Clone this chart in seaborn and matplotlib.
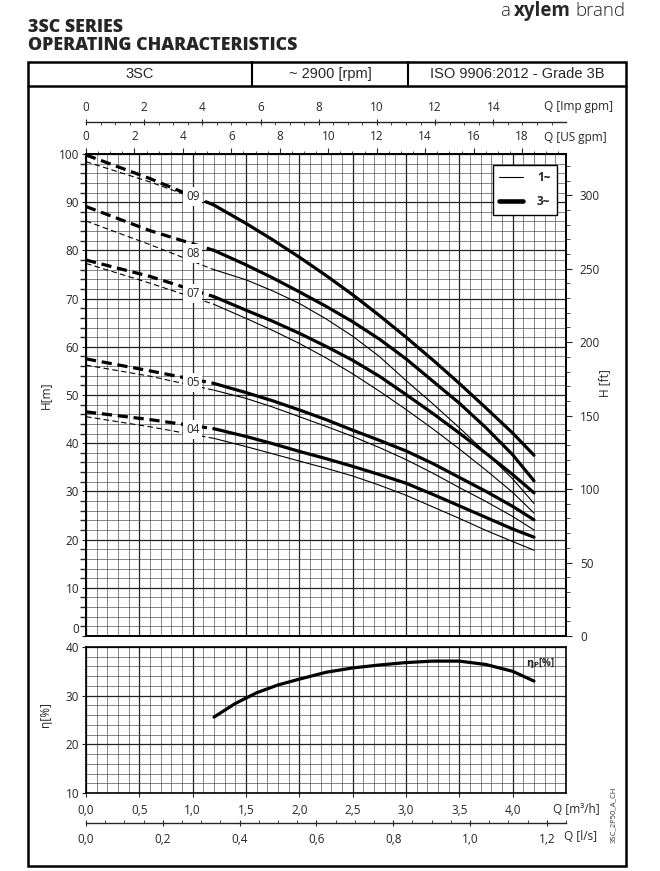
import numpy as np
import seaborn as sns
import matplotlib.pyplot as plt
from matplotlib.lines import Line2D
from matplotlib.patches import Rectangle
from matplotlib.ticker import MultipleLocator, FixedLocator, FuncFormatter

# --- data ---
Q_DASH = [0.0, 0.6, 1.2]
Q_SOLID = [1.2, 1.5, 1.75, 2.0, 2.25, 2.5, 2.75, 3.0, 3.25, 3.5, 3.75, 4.0, 4.2]

# dashed part (below the recommended range)
H09_3_DASH = [99.8, 94.9, 89.4]
H09_1_DASH = [98.4, 94.2, 89.4]
H08_3_DASH = [89.1, 84.1, 80.0]
H08_1_DASH = [86.1, 81.2, 76.0]
H07_3_DASH = [78.0, 74.6, 70.4]
H07_1_DASH = [77.3, 73.2, 68.8]
H05_3_DASH = [57.5, 55.0, 52.4]
H05_1_DASH = [56.2, 53.9, 51.0]
H04_3_DASH = [46.5, 44.9, 43.0]
H04_1_DASH = [45.5, 43.4, 41.0]

# solid part
H09_3 = [89.4, 85.6, 82.2, 78.6, 74.8, 70.8, 66.5, 62.0, 57.3, 52.4, 47.3, 42.1, 37.5]
H08_3 = [80.0, 77.0, 74.3, 71.4, 68.4, 65.2, 61.6, 57.5, 52.9, 48.3, 43.2, 37.6, 32.2]
H08_1 = [76.0, 73.9, 71.6, 69.0, 65.8, 62.2, 58.0, 53.0, 48.2, 43.2, 38.0, 32.6, 27.5]
H07_3 = [70.4, 67.6, 65.3, 62.8, 60.1, 57.2, 53.9, 50.1, 46.2, 42.1, 37.9, 33.5, 29.7]
H07_1 = [68.8, 65.9, 63.4, 60.7, 57.7, 54.4, 50.8, 47.0, 43.0, 38.8, 34.4, 29.8, 25.5]
H05_3 = [52.4, 50.5, 48.8, 46.9, 44.9, 42.7, 40.6, 38.4, 35.8, 32.9, 30.0, 26.9, 24.1]
H05_1 = [51.0, 49.3, 47.5, 45.5, 43.5, 41.4, 39.1, 36.6, 33.8, 30.8, 27.9, 24.8, 22.0]
H04_3 = [43.0, 41.4, 39.9, 38.3, 36.8, 35.2, 33.5, 31.7, 29.4, 27.0, 24.6, 22.2, 20.5]
H04_1 = [41.0, 39.3, 37.8, 36.3, 34.8, 33.2, 31.3, 29.2, 26.8, 24.4, 21.9, 19.6, 17.8]

MODELS = ['09', '08', '07', '05', '04']
LABEL_Q = 1.0
LABEL_H = [91.1, 79.3, 71.0, 52.5, 42.9]

Q_EFF = [1.2, 1.4, 1.6, 1.8, 2.0, 2.25, 2.5, 2.75, 3.0, 3.25, 3.5, 3.75, 4.0, 4.2]
ETA = [25.6, 28.4, 30.6, 32.2, 33.4, 34.8, 35.7, 36.3, 36.8, 37.1, 37.1, 36.4, 35.0, 33.0]

HEADER_CELLS = ['3SC', '~ 2900 [rpm]', 'ISO 9906:2012 - Grade 3B']

# tick values
TICKS_H = [0, 10, 20, 30, 40, 50, 60, 70, 80, 90, 100]
TICKS_IMP = [0, 2, 4, 6, 8, 10, 12, 14]
TICKS_US = [0, 2, 4, 6, 8, 10, 12, 14, 16, 18]
TICKS_M3H = [0.0, 0.5, 1.0, 1.5, 2.0, 2.5, 3.0, 3.5, 4.0]
TICKS_LS = [0.0, 0.2, 0.4, 0.6, 0.8, 1.0, 1.2]

M_TO_FT = 3.28084
M3H_TO_USGPM = 4.40287
M3H_TO_IMPGPM = 3.66615
M3H_TO_LS = 1 / 3.6

sns.set_theme(style='white')
plt.rcParams['font.family'] = ['Open Sans', 'DejaVu Sans']
plt.rcParams['mathtext.fontset'] = 'dejavusans'

W, H = 660, 871
fig = plt.figure(figsize=(6.6, 8.71), dpi=100)


def fx(px):
    return px / W


def fy(py):
    return 1 - py / H


ax = fig.add_axes([fx(86), fy(636), fx(566) - fx(86), fy(154) - fy(636)])
ax_e = fig.add_axes([fx(86), fy(793), fx(566) - fx(86), fy(647) - fy(793)])

THIN, THICK = 0.8, 2.3
comma = FuncFormatter(lambda v, p: f'{v:.1f}'.replace('.', ','))


def grid(a, ymaj, ymin):
    a.xaxis.set_major_locator(MultipleLocator(0.5))
    a.xaxis.set_minor_locator(MultipleLocator(0.1))
    a.yaxis.set_major_locator(MultipleLocator(ymaj))
    a.yaxis.set_minor_locator(MultipleLocator(ymin))
    a.grid(which='major', color='#222222', lw=0.9)
    a.grid(which='minor', color='#444444', lw=0.45)
    a.set_axisbelow(True)
    for s in a.spines.values():
        s.set_color('black')
        s.set_linewidth(1.2)


# --- head curves ---
dash_sets = [(H09_3_DASH, H09_1_DASH), (H08_3_DASH, H08_1_DASH), (H07_3_DASH, H07_1_DASH),
             (H05_3_DASH, H05_1_DASH), (H04_3_DASH, H04_1_DASH)]
for h3, h1 in dash_sets:
    sns.lineplot(x=Q_DASH, y=h3, ax=ax, color='black', lw=THICK, linestyle=(0, (3.2, 1.8)), sort=False)
    sns.lineplot(x=Q_DASH, y=h1, ax=ax, color='black', lw=THIN, linestyle=(0, (5, 3)), sort=False)

for h in [H08_1, H07_1, H05_1, H04_1]:
    sns.lineplot(x=Q_SOLID, y=h, ax=ax, color='black', lw=THIN, sort=False)
for h in [H09_3, H08_3, H07_3, H05_3, H04_3]:
    sns.lineplot(x=Q_SOLID, y=h, ax=ax, color='black', lw=THICK, sort=False, solid_capstyle='round')

for m, hl in zip(MODELS, LABEL_H):
    ax.text(LABEL_Q, hl, m, ha='center', va='center', fontsize=8.5, zorder=5,
            bbox=dict(boxstyle='square,pad=0.25', fc='white', ec='none'))

ax.set_xlim(0, 4.5)
ax.set_ylim(0, 100)
grid(ax, 10, 2)
ax.yaxis.set_major_locator(FixedLocator(TICKS_H))
ax.set_xlabel('')
ax.set_ylabel('H[m]', fontsize=8.5)
ax.yaxis.set_label_coords((52 - 86) / 480, 0.5)
ax.tick_params(axis='x', which='both', bottom=False, labelbottom=False)
ax.tick_params(axis='y', which='major', left=True, length=3, width=0.8, labelsize=8.5, pad=2)

# right axis in feet
ax_ft = ax.twinx()
ax_ft.set_ylim(0, 100 * M_TO_FT)
ax_ft.yaxis.set_major_locator(MultipleLocator(50))
ax_ft.yaxis.set_minor_locator(MultipleLocator(10))
ax_ft.tick_params(axis='y', which='major', right=True, length=4, width=0.8, labelsize=8.5, pad=6)
ax_ft.tick_params(axis='y', which='minor', right=True, length=3, width=0.6)
ax_ft.set_ylabel('H [ft]', fontsize=8.5)
ax_ft.yaxis.set_label_coords((598 - 86) / 480, (636 - 383) / 482)
ax_ft.grid(False)
for s in ax_ft.spines.values():
    s.set_linewidth(1.2)
    s.set_color('black')

# top axes: US gpm on the spine, Imp gpm above
us = ax.secondary_xaxis('top', functions=(lambda q: q * M3H_TO_USGPM, lambda g: g / M3H_TO_USGPM))
us.xaxis.set_major_locator(FixedLocator(TICKS_US))
us.xaxis.set_minor_locator(MultipleLocator(0.5))
us.tick_params(which='major', length=4, width=0.8, labelsize=8.5, pad=4)
us.tick_params(which='minor', length=2.5, width=0.6)
us.spines['top'].set_linewidth(1.2)

imp = ax.secondary_xaxis(1 + 32 / 482, functions=(lambda q: q * M3H_TO_IMPGPM, lambda g: g / M3H_TO_IMPGPM))
imp.xaxis.set_major_locator(FixedLocator(TICKS_IMP))
imp.xaxis.set_minor_locator(MultipleLocator(0.5))
imp.tick_params(which='major', length=4, width=0.8, labelsize=8.5, pad=4, direction='inout')
imp.tick_params(which='minor', length=2.5, width=0.6, direction='in')
imp.spines['top'].set_linewidth(1.0)

ax.text((578 - 86) / 480, (636 - 107) / 482, 'Q [Imp gpm]', transform=ax.transAxes,
        ha='center', va='center', fontsize=8.5)
ax.text((575 - 86) / 480, (636 - 138) / 482, 'Q [US gpm]', transform=ax.transAxes,
        ha='center', va='center', fontsize=8.5)

# legend
handles = [Line2D([], [], color='black', lw=THIN), Line2D([], [], color='black', lw=THICK + 1)]
leg = ax.legend(handles, ['1~', '3~'], loc='upper right', bbox_to_anchor=((557 - 86) / 480, (636 - 165) / 482),
                borderaxespad=0, frameon=True, fancybox=False, edgecolor='black', framealpha=1,
                handlelength=2.0, labelspacing=0.9, borderpad=0.55, handletextpad=1.2,
                prop={'weight': 'bold', 'size': 8.5})
leg.get_frame().set_linewidth(1.0)

# --- efficiency ---
sns.lineplot(x=Q_EFF, y=ETA, ax=ax_e, color='black', lw=THICK, sort=False, solid_capstyle='round')
ax_e.set_xlim(0, 4.5)
ax_e.set_ylim(10, 40)
grid(ax_e, 10, 2)
ax_e.xaxis.set_major_locator(FixedLocator(TICKS_M3H))
ax_e.set_ylabel('η[%]', fontsize=8.5)
ax_e.yaxis.set_label_coords((52 - 86) / 480, (793 - 715) / 146)
ax_e.xaxis.set_major_formatter(comma)
ax_e.tick_params(axis='x', which='major', bottom=True, length=3, width=0.8, labelsize=8.5, pad=5)
ax_e.tick_params(axis='y', which='major', left=True, length=3, width=0.8, labelsize=8.5, pad=2)
ax_e.text((540 - 86) / 480, (793 - 663) / 146, r'$\mathbf{\eta_P}$[%]', transform=ax_e.transAxes,
          ha='center', va='center', fontsize=7, fontweight='bold')

ls = ax_e.secondary_xaxis(-30 / 146, functions=(lambda q: q * M3H_TO_LS, lambda l: l / M3H_TO_LS))
ls.xaxis.set_major_locator(FixedLocator(TICKS_LS))
ls.xaxis.set_minor_locator(MultipleLocator(0.05))
ls.xaxis.set_major_formatter(comma)
ls.tick_params(which='major', length=4, width=0.8, labelsize=8.5, pad=5, direction='inout')
ls.tick_params(which='minor', length=2.5, width=0.6, direction='in')
ls.spines['bottom'].set_linewidth(1.0)

ax_e.text((576 - 86) / 480, (793 - 809) / 146, 'Q [m³/h]', transform=ax_e.transAxes,
          ha='center', va='center', fontsize=8.5)
ax_e.text((580 - 86) / 480, (793 - 836) / 146, 'Q [l/s]', transform=ax_e.transAxes,
          ha='center', va='center', fontsize=8.5)

# --- frame and header ---
fig.add_artist(Rectangle((fx(28), fy(866)), fx(626) - fx(28), fy(62) - fy(866), transform=fig.transFigure,
                         fill=False, ec='black', lw=1.8))
fig.add_artist(Line2D([fx(28), fx(626)], [fy(86), fy(86)], transform=fig.transFigure, color='black', lw=1.8))
for xd in [252, 408]:
    fig.add_artist(Line2D([fx(xd), fx(xd)], [fy(62), fy(86)], transform=fig.transFigure, color='black', lw=1.5))
for xc, txt in zip([140, 330, 517], HEADER_CELLS):
    fig.text(fx(xc), fy(74), txt, ha='center', va='center', fontsize=10.5, family='Liberation Sans')

fig.text(fx(28), fy(27), '3SC SERIES', ha='left', va='center', fontsize=12.8, fontweight='heavy')
fig.text(fx(28), fy(45), 'OPERATING CHARACTERISTICS', ha='left', va='center', fontsize=12.8, fontweight='heavy')

t_brand = fig.text(fx(625), fy(16), 'brand', ha='right', va='baseline', fontsize=13.5, fontweight='light')
t_xy = fig.text(0, 0, 'xylem', fontsize=13.5, fontweight='bold', va='baseline', ha='right')
fig.canvas.draw()
r = fig.canvas.get_renderer()
bb = t_brand.get_window_extent(r)
t_xy.set_position(((bb.x0 - 4) / fig.bbox.width, fy(16)))
bb2 = t_xy.get_window_extent(r)
fig.text((bb2.x0 - 4) / fig.bbox.width, fy(16), 'a', fontsize=13.5, fontweight='light',
         ha='right', va='baseline')

# keep the "0" of the head axis clear of the "40" just below it
for tick in ax.yaxis.get_major_ticks()[:1]:
    tick.label1.set_verticalalignment('bottom')

fig.text(fx(613), fy(815), '3SC_2P50_A_CH', rotation=90, ha='center', va='center', fontsize=5.5, color='#333333')

fig.savefig('out.png', dpi=100)
